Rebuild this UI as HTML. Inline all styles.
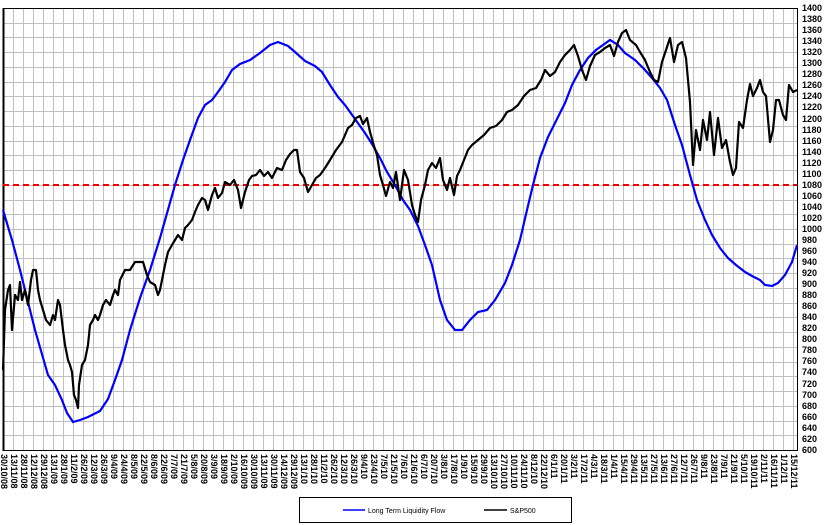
<!DOCTYPE html>
<html><head><style>
body{margin:0;background:#fff;width:836px;height:525px;overflow:hidden;font-family:"Liberation Sans",Arial,sans-serif}
svg{position:absolute;left:0;top:0}
.xl{position:absolute;top:454px;writing-mode:vertical-rl;font-size:9px;font-weight:bold;color:#000;line-height:10px;white-space:nowrap}
</style></head><body>
<svg width="836" height="525" xmlns="http://www.w3.org/2000/svg">
<g id="grid" stroke="#c0c0c0" stroke-width="1"></g>
<rect x="3.5" y="8.5" width="794" height="442" fill="none" stroke="#000" stroke-width="1"/>
<line x1="3.5" y1="8" x2="3.5" y2="451" stroke="#000" stroke-width="2"/>
<line x1="3" y1="185" x2="797" y2="185" stroke="#e00" stroke-width="2" stroke-dasharray="6,4"/>
<polyline fill="none" stroke="#0000ff" stroke-width="2.2" points="3,210 12,240 20,270 35,330 48,375 55,385 62,400 67,413 73,422 80,420 88,417 100,411 108,399 115,380 122,360 130,330 140,298 150,270 160,238 175,185 183,160 190,140 198,118 205,105 212,100 218,92 225,82 232,70 240,64 250,60 260,53 270,45 278,42 288,46 295,52 305,61 315,66 322,72 330,85 338,97 345,105 355,119 365,133 372,144 380,158 387,172 395,185 403,200 410,210 418,226 425,245 432,265 440,300 447,320 455,330 462,330 470,320 478,312 487,310 495,300 505,283 512,265 520,240 527,210 533,185 540,158 548,137 555,123 565,103 572,85 580,70 588,58 596,50 603,45 610,40 618,45 625,53 635,60 645,70 652,78 660,88 667,100 675,125 682,145 690,175 697,200 705,220 712,235 720,248 728,258 736,265 745,272 752,276 760,280 765,285 772,286 778,283 785,275 792,262 797,245"/>
<polyline fill="none" stroke="#000" stroke-width="2.2" stroke-linejoin="round" points="3,370 5,310 8,290 10,285 12,330 15,295 18,300 20,282 22,300 25,290 28,305 31,280 33,270 36,270 38,290 40,300 43,310 46,320 50,325 53,315 55,320 58,300 60,305 63,330 65,345 68,360 70,365 72,372 74,395 76,400 78,408 79,385 82,365 85,360 88,345 90,325 93,320 95,315 98,320 100,315 103,305 106,300 110,305 113,295 115,290 118,295 120,280 125,270 130,270 135,262 138,262 143,262 147,275 150,282 155,285 158,295 160,290 163,275 165,265 168,252 172,245 175,240 178,235 182,240 185,228 188,225 192,220 195,212 198,205 202,198 205,200 208,210 212,195 215,188 218,198 222,193 225,182 230,185 234,180 238,190 241,208 245,192 249,180 252,176 256,175 260,170 264,176 268,172 272,178 277,168 282,170 286,160 290,154 294,150 297,150 300,172 304,178 308,192 312,185 316,178 320,175 325,168 330,160 336,150 342,142 348,128 352,125 356,118 360,116 363,124 367,118 370,132 374,146 377,155 380,175 383,185 386,196 390,182 393,188 396,172 400,200 404,170 408,180 412,205 415,215 418,222 421,200 425,185 428,170 432,163 436,168 440,158 443,180 447,190 450,178 454,195 457,176 460,170 464,160 468,150 472,145 478,140 484,135 490,128 496,126 502,120 507,112 512,110 518,105 524,96 530,90 536,88 541,80 545,70 550,76 555,72 560,62 565,55 570,50 574,45 578,56 582,70 586,80 590,66 595,55 600,52 605,48 610,45 614,56 618,42 622,33 626,30 630,40 636,45 640,52 645,60 650,72 654,80 658,82 662,62 666,50 670,38 674,62 678,45 682,42 686,58 690,102 693,165 696,130 700,150 703,120 707,140 710,112 714,155 718,118 722,148 726,140 730,162 733,175 736,168 739,122 743,128 747,100 750,84 753,96 757,88 760,80 763,92 766,96 770,142 773,130 776,100 779,100 783,115 786,120 789,85 793,92 797,90"/>
<g font-size="9" font-weight="bold" font-family="Liberation Sans,Arial,sans-serif" fill="#000" id="yl"></g>
<rect x="299.5" y="497.5" width="272" height="25" fill="#fff" stroke="#000"/>
<line x1="343" y1="510" x2="365" y2="510" stroke="#0000ff" stroke-width="1.5"/>
<text x="368" y="513" font-size="7" font-family="Liberation Sans,Arial,sans-serif">Long Term Liquidity  Flow</text>
<line x1="484" y1="510" x2="507" y2="510" stroke="#000" stroke-width="1.5"/>
<text x="510" y="513" font-size="7" font-family="Liberation Sans,Arial,sans-serif">S&amp;P500</text>
<g font-size="9" font-weight="bold" font-family="Liberation Sans,Arial,sans-serif">
<text x="802" y="11">1400</text><text x="802" y="22">1380</text><text x="802" y="33">1360</text><text x="802" y="44">1340</text><text x="802" y="55">1320</text><text x="802" y="66">1300</text><text x="802" y="77">1280</text><text x="802" y="88">1260</text><text x="802" y="99">1240</text><text x="802" y="110">1220</text><text x="802" y="122">1200</text><text x="802" y="133">1180</text><text x="802" y="144">1160</text><text x="802" y="155">1140</text><text x="802" y="166">1120</text><text x="802" y="177">1100</text><text x="802" y="188">1080</text><text x="802" y="199">1060</text><text x="802" y="210">1040</text><text x="802" y="221">1020</text><text x="802" y="232">1000</text><text x="802" y="243">980</text><text x="802" y="254">960</text><text x="802" y="265">940</text><text x="802" y="276">920</text><text x="802" y="287">900</text><text x="802" y="298">880</text><text x="802" y="309">860</text><text x="802" y="320">840</text><text x="802" y="331">820</text><text x="802" y="342">800</text><text x="802" y="353">780</text><text x="802" y="364">760</text><text x="802" y="375">740</text><text x="802" y="387">720</text><text x="802" y="398">700</text><text x="802" y="409">680</text><text x="802" y="420">660</text><text x="802" y="431">640</text><text x="802" y="442">620</text><text x="802" y="453">600</text>
</g>
</svg>
<div id="xl">
<span class="xl" style="left:-1px">30/10/08</span><span class="xl" style="left:9px">13/11/08</span><span class="xl" style="left:19px">28/11/08</span><span class="xl" style="left:29px">12/12/08</span><span class="xl" style="left:39px">29/12/08</span><span class="xl" style="left:49px">13/1/09</span><span class="xl" style="left:59px">28/1/09</span><span class="xl" style="left:69px">11/2/09</span><span class="xl" style="left:79px">26/2/09</span><span class="xl" style="left:89px">12/3/09</span><span class="xl" style="left:99px">26/3/09</span><span class="xl" style="left:109px">9/4/09</span><span class="xl" style="left:119px">24/4/09</span><span class="xl" style="left:129px">8/5/09</span><span class="xl" style="left:139px">22/5/09</span><span class="xl" style="left:149px">8/6/09</span><span class="xl" style="left:159px">22/6/09</span><span class="xl" style="left:169px">7/7/09</span><span class="xl" style="left:179px">21/7/09</span><span class="xl" style="left:189px">5/8/09</span><span class="xl" style="left:199px">20/8/09</span><span class="xl" style="left:209px">3/9/09</span><span class="xl" style="left:219px">18/9/09</span><span class="xl" style="left:229px">2/10/09</span><span class="xl" style="left:239px">16/10/09</span><span class="xl" style="left:249px">30/10/09</span><span class="xl" style="left:259px">13/11/09</span><span class="xl" style="left:269px">30/11/09</span><span class="xl" style="left:279px">14/12/09</span><span class="xl" style="left:289px">29/12/09</span><span class="xl" style="left:299px">13/1/10</span><span class="xl" style="left:309px">28/1/10</span><span class="xl" style="left:319px">11/2/10</span><span class="xl" style="left:329px">26/2/10</span><span class="xl" style="left:339px">12/3/10</span><span class="xl" style="left:349px">26/3/10</span><span class="xl" style="left:359px">9/4/10</span><span class="xl" style="left:369px">23/4/10</span><span class="xl" style="left:379px">7/5/10</span><span class="xl" style="left:389px">21/5/10</span><span class="xl" style="left:399px">7/6/10</span><span class="xl" style="left:409px">21/6/10</span><span class="xl" style="left:419px">6/7/10</span><span class="xl" style="left:429px">20/7/10</span><span class="xl" style="left:439px">3/8/10</span><span class="xl" style="left:449px">17/8/10</span><span class="xl" style="left:459px">1/9/10</span><span class="xl" style="left:469px">15/9/10</span><span class="xl" style="left:479px">29/9/10</span><span class="xl" style="left:489px">13/10/10</span><span class="xl" style="left:499px">27/10/10</span><span class="xl" style="left:509px">10/11/10</span><span class="xl" style="left:519px">24/11/10</span><span class="xl" style="left:529px">8/12/10</span><span class="xl" style="left:539px">22/12/10</span><span class="xl" style="left:549px">6/1/11</span><span class="xl" style="left:559px">20/1/11</span><span class="xl" style="left:569px">3/2/11</span><span class="xl" style="left:579px">17/2/11</span><span class="xl" style="left:589px">4/3/11</span><span class="xl" style="left:599px">18/3/11</span><span class="xl" style="left:609px">1/4/11</span><span class="xl" style="left:619px">15/4/11</span><span class="xl" style="left:629px">29/4/11</span><span class="xl" style="left:639px">13/5/11</span><span class="xl" style="left:649px">27/5/11</span><span class="xl" style="left:659px">13/6/11</span><span class="xl" style="left:669px">27/6/11</span><span class="xl" style="left:679px">12/7/11</span><span class="xl" style="left:689px">26/7/11</span><span class="xl" style="left:699px">9/8/11</span><span class="xl" style="left:709px">23/8/11</span><span class="xl" style="left:719px">7/9/11</span><span class="xl" style="left:729px">21/9/11</span><span class="xl" style="left:739px">5/10/11</span><span class="xl" style="left:749px">19/10/11</span><span class="xl" style="left:759px">2/11/11</span><span class="xl" style="left:769px">16/11/11</span><span class="xl" style="left:779px">1/12/11</span><span class="xl" style="left:789px">15/12/11</span>
</div>
<script>
var g=document.getElementById('grid'),s='';
for(var x=13.5;x<797;x+=10)s+='<line x1="'+x+'" y1="8" x2="'+x+'" y2="450"/>';
for(var i=1;i<30;i++){var y=Math.round(8+i*442/30)+0.5;s+='<line x1="3" y1="'+y+'" x2="797" y2="'+y+'"/>';}
g.innerHTML=s;
</script>
</body></html>
